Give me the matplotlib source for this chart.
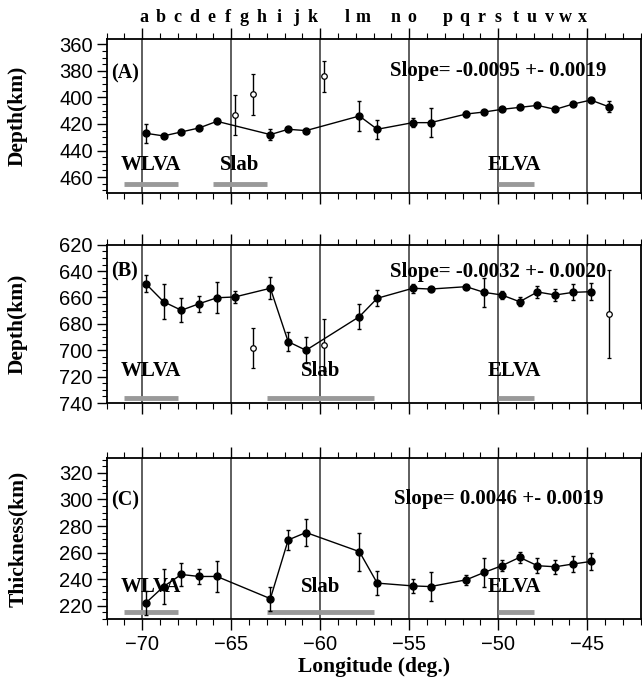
import numpy as np
import matplotlib
matplotlib.use("Agg")
import matplotlib.pyplot as plt
from matplotlib.ticker import MultipleLocator

# station letters along the top of panel (A)
letters = list("abcdefghijklmnopqrstuvwx")
letter_lon = [-69.93, -68.97, -68.0, -67.07, -66.13, -65.2, -64.27, -63.28, -62.3,
              -61.37, -60.44, -58.5, -57.57, -55.78, -54.85, -52.86, -51.89, -50.94,
              -50.01, -49.04, -48.11, -47.14, -46.21, -45.28]

# (A) 410 depth
lon_a = [-69.8, -68.8, -67.8, -66.8, -65.8, -62.8, -61.8, -60.8, -57.8, -56.8, -54.8,
         -53.8, -51.8, -50.8, -49.8, -48.8, -47.8, -46.8, -45.8, -44.8, -43.8]
dep_a = [427, 429, 426, 423, 418, 428, 424, 425, 414, 424, 419,
         419, 412.5, 411, 409, 407.5, 406, 409, 405, 402, 407]
err_a = [7, 1.5, 1.5, 1.5, 1.5, 4.3, 1.5, 1.5, 11.3, 7, 3.5,
         11, 2, 1.5, 1.5, 1.5, 1.5, 1.5, 1.5, 1.5, 4]
lon_a_out = [-64.8, -63.8, -59.8]
dep_a_out = [413.4, 397.6, 384.1]
err_a_out = [15, 15.5, 11.7]

# (B) 660 depth
lon_b = [-69.8, -68.8, -67.8, -66.8, -65.8, -64.8, -62.8, -61.8, -60.8, -57.8, -56.8,
         -54.8, -53.8, -51.8, -50.8, -49.8, -48.8, -47.8, -46.8, -45.8, -44.8]
dep_b = [649.5, 663.2, 669.7, 664.7, 660.2, 659.6, 653, 693.5, 700, 674.5, 660.6,
         653, 653.6, 651.8, 656.1, 658.1, 663.2, 655.8, 658.1, 656.1, 655.6]
err_b = [6.5, 13.4, 9, 6, 11.7, 4.4, 8.5, 7, 10, 9.5, 6,
         3.3, 1.5, 1.5, 11, 3, 3.3, 4.8, 4.3, 6, 6.4]
lon_b_out = [-63.8, -59.8, -43.8]
dep_b_out = [698.5, 696, 672.5]
err_b_out = [15, 19.5, 33.3]

# (C) transition zone thickness
lon_c = [-69.8, -68.8, -67.8, -66.8, -65.8, -62.8, -61.8, -60.8, -57.8, -56.8,
         -54.8, -53.8, -51.8, -50.8, -49.8, -48.8, -47.8, -46.8, -45.8, -44.8]
thk_c = [222, 234.4, 243.5, 242, 242, 225.3, 269.5, 275.1, 260.7, 237,
         234.9, 234.4, 239.5, 245, 250.1, 256.4, 250.1, 249.3, 251.4, 253.3]
err_c = [9, 13, 9, 6, 12, 9, 7.6, 10.5, 14.4, 9.2,
         5.3, 11, 3.8, 11, 4.3, 4, 5.5, 5.4, 6.2, 6.4]

slopes = ["Slope= -0.0095 +- 0.0019", "Slope= -0.0032 +- 0.0020", "Slope= 0.0046 +- 0.0019"]
ylabels = ["Depth(km)", "Depth(km)", "Thickness(km)"]
tags = ["(A)", "(B)", "(C)"]

# grey bars for the regions: (start, end) in longitude
wlva = (-71, -68)
elva = (-50, -48)
slab_a = (-66, -63)
slab_bc = (-63, -57)

serif = dict(family="Liberation Serif", weight="bold")
plt.rcParams["font.family"] = "Liberation Sans"

fig = plt.figure(figsize=(6.42, 6.77), dpi=100)
boxes = [[0.166, 0.7149, 0.832, 0.2275],
         [0.166, 0.4047, 0.832, 0.2338],
         [0.166, 0.0857, 0.832, 0.2374]]
ylims = [(472, 356), (740, 620), (210, 331)]
yticks = [np.arange(360, 461, 20), np.arange(620, 741, 20), np.arange(220, 321, 20)]

axes = [fig.add_axes(b) for b in boxes]
for i, ax in enumerate(axes):
    ax.set_xlim(-72, -42)
    ax.set_ylim(*ylims[i])
    ax.set_yticks(yticks[i])
    ax.yaxis.set_minor_locator(MultipleLocator(5))
    ax.xaxis.set_major_locator(MultipleLocator(5))
    ax.xaxis.set_minor_locator(MultipleLocator(1))
    ax.tick_params(axis="x", which="major", direction="out", length=8, width=1,
                   top=True, bottom=True, labelbottom=(i == 2), labelsize=14.5)
    ax.tick_params(axis="x", which="minor", direction="out", length=4, width=0.8,
                   top=True, bottom=True)
    ax.tick_params(axis="y", which="major", direction="out", length=7, width=1,
                   labelsize=14.5, pad=3)
    ax.tick_params(axis="y", which="minor", direction="out", length=3.5, width=0.8)
    for s in ax.spines.values():
        s.set_linewidth(1.3)
    for v in range(-70, -44, 5):
        ax.axvline(v, color="0.2", lw=1.1, zorder=1)
    ax.set_ylabel(ylabels[i], fontsize=15.5, **serif)
    ax.yaxis.set_label_coords(-0.147, 0.5)
    ax.text(-71.75, [382, 640, 299][i], tags[i], fontsize=14.5, va="center", **serif)
    ax.text(-50.0, [380, 640.5, 300][i], slopes[i], fontsize=15, ha="center",
            va="center", **serif)

# panel A
ax = axes[0]
ax.errorbar(lon_a, dep_a, yerr=err_a, fmt="o-", color="k", ms=5, lw=1,
            elinewidth=1, capsize=1.5, zorder=3)
ax.errorbar(lon_a_out, dep_a_out, yerr=err_a_out, fmt="o", color="k", mfc="white",
            ms=4, mew=0.9, elinewidth=1, capsize=1.5, zorder=3)
ybar, ytxt = 465.3, 451
ax.plot(wlva, [ybar] * 2, color="0.6", lw=3.5, solid_capstyle="butt")
ax.plot(slab_a, [ybar] * 2, color="0.6", lw=3.5, solid_capstyle="butt")
ax.plot(elva, [ybar] * 2, color="0.6", lw=3.5, solid_capstyle="butt")
ax.text(-69.5, ytxt, "WLVA", fontsize=15, ha="center", va="center", **serif)
ax.text(-64.55, ytxt, "Slab", fontsize=15, ha="center", va="center", **serif)
ax.text(-49.1, ytxt, "ELVA", fontsize=15, ha="center", va="center", **serif)
trans = ax.get_xaxis_transform()
for lab, x in zip(letters, letter_lon):
    ax.text(x, 1.112, lab, transform=trans, fontsize=13, ha="center",
            va="baseline", **serif)

# panel B
ax = axes[1]
ax.errorbar(lon_b, dep_b, yerr=err_b, fmt="o-", color="k", ms=5, lw=1,
            elinewidth=1, capsize=1.5, zorder=3)
ax.errorbar(lon_b_out, dep_b_out, yerr=err_b_out, fmt="o", color="k", mfc="white",
            ms=4, mew=0.9, elinewidth=1, capsize=1.5, zorder=3)
ybar, ytxt = 735.9, 716
ax.plot(wlva, [ybar] * 2, color="0.6", lw=3.5, solid_capstyle="butt")
ax.plot(slab_bc, [ybar] * 2, color="0.6", lw=3.5, solid_capstyle="butt")
ax.plot(elva, [ybar] * 2, color="0.6", lw=3.5, solid_capstyle="butt")
ax.text(-69.5, ytxt, "WLVA", fontsize=15, ha="center", va="center", **serif)
ax.text(-60.0, ytxt, "Slab", fontsize=15, ha="center", va="center", **serif)
ax.text(-49.1, ytxt, "ELVA", fontsize=15, ha="center", va="center", **serif)

# panel C
ax = axes[2]
ybar, ytxt = 215.2, 234
ax.plot(wlva, [ybar] * 2, color="0.6", lw=3.5, solid_capstyle="butt")
ax.plot(slab_bc, [ybar] * 2, color="0.6", lw=3.5, solid_capstyle="butt")
ax.plot(elva, [ybar] * 2, color="0.6", lw=3.5, solid_capstyle="butt")
ax.text(-69.5, ytxt, "WLVA", fontsize=15, ha="center", va="center", **serif)
ax.text(-60.0, ytxt, "Slab", fontsize=15, ha="center", va="center", **serif)
ax.text(-49.1, ytxt, "ELVA", fontsize=15, ha="center", va="center", **serif)
ax.errorbar(lon_c, thk_c, yerr=err_c, fmt="o-", color="k", ms=5, lw=1,
            elinewidth=1, capsize=1.5, zorder=3)
ax.set_xlabel("Longitude (deg.)", fontsize=15.5, labelpad=2, **serif)

fig.savefig("out.png", dpi=100)
